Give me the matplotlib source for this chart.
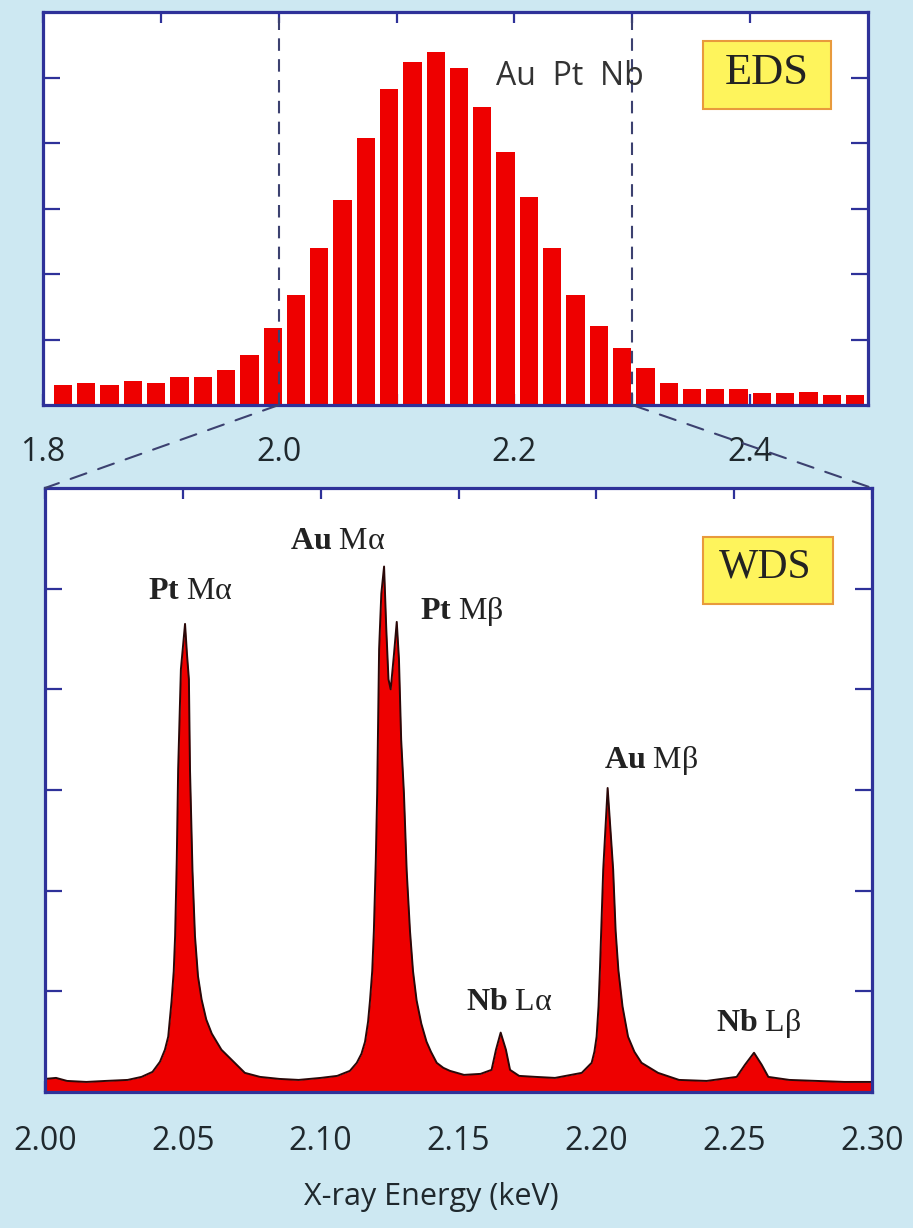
import numpy as np
import matplotlib
matplotlib.use("Agg")
import matplotlib.pyplot as plt
from matplotlib.patches import Rectangle, ConnectionPatch

# ---------------- data ----------------
# EDS histogram (top panel): bin centres (keV) and counts (arb. units)
eds_energy = np.linspace(1.817, 2.489, 35)
eds_counts = [0.31, 0.34, 0.31, 0.36, 0.33, 0.43, 0.43, 0.53, 0.76, 1.17,
              1.68, 2.39, 3.13, 4.07, 4.83, 5.24, 5.39, 5.14, 4.55, 3.87,
              3.18, 2.39, 1.68, 1.20, 0.87, 0.56, 0.33, 0.25, 0.25, 0.25,
              0.18, 0.18, 0.20, 0.15, 0.15]
eds_ticks = [1.8, 1.9, 2.0, 2.1, 2.2, 2.3, 2.4]
eds_ticklabels = ["1.8", "", "2.0", "", "2.2", "", "2.4"]
zoom_range = [2.0, 2.3]

# WDS spectrum (bottom panel)
wds_energy = [2.000, 2.004, 2.008, 2.015, 2.022, 2.030, 2.035, 2.039, 2.0417,
              2.0435, 2.0447, 2.0459, 2.0467, 2.0472, 2.0478, 2.0483, 2.0493,
              2.0508, 2.0515, 2.0522, 2.0526, 2.0535, 2.0544, 2.0555, 2.0568,
              2.0585, 2.0605, 2.0640, 2.0677, 2.0725, 2.078,
              2.085, 2.092, 2.100, 2.106, 2.1106, 2.1131, 2.1148, 2.1161,
              2.1172, 2.1179, 2.1187, 2.1193, 2.1200, 2.1205, 2.1212, 2.1220,
              2.1230, 2.1238, 2.1246, 2.1254, 2.1266, 2.1276, 2.1284, 2.1292,
              2.1302, 2.1312, 2.1324, 2.1335, 2.1348, 2.1365, 2.1384, 2.1400,
              2.1421, 2.1445, 2.1469, 2.152, 2.158, 2.162, 2.1636, 2.1653,
              2.1672, 2.1687, 2.172, 2.178, 2.185, 2.1947, 2.1983, 2.1993,
              2.2001, 2.2008, 2.2013, 2.2025, 2.2041, 2.2061, 2.2070, 2.2080,
              2.2095, 2.2115, 2.2138, 2.2164, 2.2224, 2.230, 2.240, 2.2509,
              2.2539, 2.2572, 2.2600, 2.2624, 2.270, 2.280, 2.290, 2.300]
wds_counts = [0.13, 0.14, 0.11, 0.10, 0.11, 0.12, 0.15, 0.20, 0.30,
              0.42, 0.55, 0.90, 1.20, 1.55, 2.30, 3.20, 4.20,
              4.65, 4.35, 4.10, 3.20, 2.20, 1.55, 1.15, 0.92,
              0.72, 0.58, 0.42, 0.32, 0.19, 0.15,
              0.13, 0.12, 0.14, 0.16, 0.21, 0.29, 0.38, 0.50,
              0.70, 0.91, 1.20, 1.60, 2.30, 2.97, 4.40, 4.95,
              5.22, 4.60, 4.10, 4.00, 4.35, 4.67, 4.30, 3.50,
              2.97, 2.20, 1.60, 1.20, 0.91, 0.68, 0.50, 0.40,
              0.29, 0.24, 0.21, 0.17, 0.18, 0.22, 0.42, 0.59,
              0.42, 0.22, 0.16, 0.15, 0.14, 0.19, 0.29, 0.40,
              0.55, 0.85, 1.21, 2.21, 3.02, 2.21, 1.60, 1.21,
              0.85, 0.55, 0.40, 0.29, 0.19, 0.12, 0.11, 0.15,
              0.27, 0.39, 0.27, 0.15, 0.12, 0.11, 0.10, 0.10]
wds_ticks = [2.00, 2.05, 2.10, 2.15, 2.20, 2.25, 2.30]
wds_ticklabels = ["2.00", "2.05", "2.10", "2.15", "2.20", "2.25", "2.30"]

peak_elements = ["Pt", "Au", "Pt", "Nb", "Au", "Nb"]
peak_lines = ["Mα", "Mα", "Mβ", "Lα", "Mβ", "Lβ"]

# ---------------- style ----------------
BG = "#cde8f2"
SPINE = "#2e3199"
RED = "#ee0000"
TXT = "#1f282d"

plt.rcParams["mathtext.fontset"] = "custom"
plt.rcParams["mathtext.rm"] = "Liberation Serif"
plt.rcParams["mathtext.bf"] = "Liberation Serif:bold"

W, H = 913, 1228
fig = plt.figure(figsize=(W / 100, H / 100), dpi=100, facecolor=BG)

ax1 = fig.add_axes([43 / W, 1 - 405 / H, 825 / W, 393 / H])
ax2 = fig.add_axes([45 / W, 1 - 1092 / H, 827 / W, 604 / H])

for ax in (ax1, ax2):
    ax.set_facecolor("white")
    for s in ax.spines.values():
        s.set_color(SPINE)
        s.set_linewidth(2.3)
        s.set_zorder(5)
    ax.set_ylim(0, 6)
    ax.set_yticks([1, 2, 3, 4, 5])
    ax.set_yticklabels([])
    ax.tick_params(axis="y", direction="in", left=True, right=True,
                   length=12, width=1.6, color=SPINE)

# ---- top: EDS ----
ax1.bar(eds_energy, eds_counts, width=0.0155, color=RED, linewidth=0, zorder=2)
ax1.set_xlim(1.8, 2.5)
ax1.set_xticks(eds_ticks)
ax1.set_xticklabels(eds_ticklabels, fontfamily="Open Sans", fontsize=23, color=TXT)
ax1.tick_params(axis="x", direction="in", top=True, bottom=True, length=8,
                width=1.6, color=SPINE, pad=22)
for xv in zoom_range:
    ax1.axvline(xv, color="#3c4170", lw=1.5, ls=(0, (6, 4)), zorder=3)

ax1.text(0.639, 0.836, "Au  Pt  Nb", transform=ax1.transAxes, ha="center",
         va="center", fontfamily="Open Sans", fontsize=23, color="#333333")

ax1.add_patch(Rectangle((0.800, 0.753), 0.155, 0.173, transform=ax1.transAxes,
                        facecolor="#fef45c", edgecolor="#e89a3c", lw=1.5, zorder=6))
ax1.text(0.8776, 0.846, "EDS", transform=ax1.transAxes, ha="center", va="center",
         fontfamily="Liberation Serif", fontsize=32, color="#222222", zorder=7)

# ---- bottom: WDS ----
ax2.fill_between(wds_energy, wds_counts, 0, color=RED, lw=0, zorder=2)
ax2.plot(wds_energy, wds_counts, color="#2a0808", lw=1.4, zorder=3)
ax2.set_xlim(2.0, 2.3)
ax2.set_xticks(wds_ticks)
ax2.set_xticklabels(wds_ticklabels, fontfamily="Open Sans", fontsize=23, color=TXT)
ax2.tick_params(axis="x", direction="in", top=True, bottom=True, length=8,
                width=1.6, color=SPINE, pad=24)

ax2.add_patch(Rectangle((0.7957, 0.808), 0.1571, 0.111, transform=ax2.transAxes,
                        facecolor="#fef45c", edgecolor="#e89a3c", lw=1.5, zorder=6))
ax2.text(0.8706, 0.868, "WDS", transform=ax2.transAxes, ha="center", va="center",
         fontfamily="Liberation Serif", fontsize=30, color="#222222", zorder=7)

label_pos = [(2.0528, 4.97), (2.1063, 5.47), (2.1513, 4.77),
             (2.1685, 0.89), (2.2198, 3.29), (2.2590, 0.68)]
for (ex, ey), el, ln in zip(label_pos, peak_elements, peak_lines):
    ax2.text(ex, ey, r"$\mathbf{%s}$ %s" % (el, ln), ha="center", va="center",
             fontfamily="Liberation Serif", fontsize=23, color="#222222", zorder=7)

fig.text(431 / W, 1 - 1197 / H, "X-ray Energy (keV)", ha="center", va="center",
         fontfamily="Open Sans", fontsize=22, color=TXT)

# ---- dashed connectors between panels ----
for xv in zoom_range:
    con = ConnectionPatch(xyA=(xv, 0), coordsA=ax1.transData,
                          xyB=(xv, 6), coordsB=ax2.transData,
                          color="#3c4170", lw=1.5, ls=(0, (8, 6)))
    fig.add_artist(con)

fig.savefig("out.png", dpi=100, facecolor=BG)
